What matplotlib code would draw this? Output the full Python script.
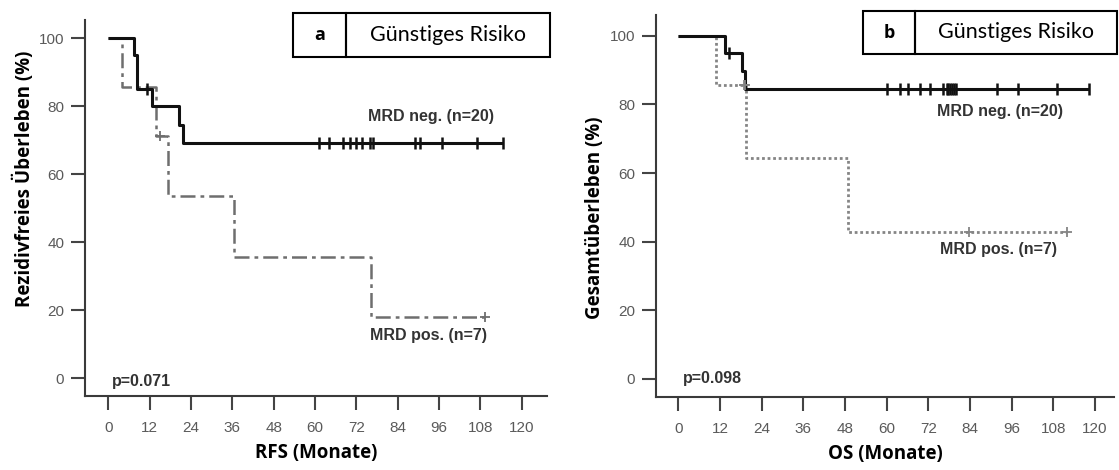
import numpy as np
import matplotlib
matplotlib.use("Agg")
import matplotlib.pyplot as plt
from matplotlib.patches import Rectangle

# RFS (panel a)
rfs_neg_t = [0, 7.4, 8.3, 12.6, 20.4, 21.7]
rfs_neg_s = [100, 95.0, 85.0, 80.0, 74.4, 69.1]
rfs_neg_end = 114.5
rfs_neg_cens = [11.3, 61.2, 63.9, 68.2, 70.2, 71.9, 73.6, 76.0, 76.7, 89.0, 90.5, 96.8, 106.9, 114.5]

rfs_pos_t = [0, 3.9, 13.9, 17.3, 36.4, 76.2]
rfs_pos_s = [100, 85.7, 71.4, 53.6, 35.7, 17.9]
rfs_pos_end = 109.3
rfs_pos_cens = [15.0, 109.3]

# OS (panel b)
os_neg_t = [0, 13.4, 18.3, 19.2]
os_neg_s = [100, 95.0, 89.7, 84.4]
os_neg_end = 118.2
os_neg_cens = [14.5, 60.0, 63.9, 66.3, 69.6, 72.5, 76.3, 77.3, 77.8, 78.3, 78.8,
               79.3, 80.0, 91.7, 97.9, 109.0, 118.2]

os_pos_t = [0, 10.9, 19.5, 49.0]
os_pos_s = [100, 85.7, 64.3, 42.9]
os_pos_end = 112.0
os_pos_cens = [18.9, 19.3, 83.6, 112.0]

xticks = np.arange(0, 121, 12)
yticks = [0, 20, 40, 60, 80, 100]

W, H = 1119, 470
fig = plt.figure(figsize=(W / 100, H / 100), dpi=100)

tick_font = "Liberation Sans"
label_font = "Open Sans"


def px_box(x0, y0, x1, y1):
    return [x0 / W, 1 - y1 / H, (x1 - x0) / W, (y1 - y0) / H]


def surv_at(times, surv, t):
    idx = np.searchsorted(times, t, side="right") - 1
    return np.array(surv)[idx]


def km(ax, times, surv, end, cens, style, color, lw, cmarker, cms, cmew):
    xs = list(times) + [end]
    ys = list(surv) + [surv[-1]]
    ax.step(xs, ys, where="post", color=color, lw=lw, linestyle=style,
            solid_capstyle="butt", zorder=3)
    cy = surv_at(times, surv, cens)
    ax.plot(cens, cy, linestyle="none", marker=cmarker, ms=cms, mew=cmew,
            color=color, zorder=4)


def style_axes(ax, xlim, ylim):
    ax.set_xlim(*xlim)
    ax.set_ylim(*ylim)
    ax.set_xticks(xticks)
    ax.set_yticks(yticks)
    for s in ["top", "right"]:
        ax.spines[s].set_visible(False)
    for s in ["left", "bottom"]:
        ax.spines[s].set_color("#3a3a3a")
        ax.spines[s].set_linewidth(1.5)
    ax.tick_params(axis="both", direction="out", length=10, width=1.5,
                   color="#444444", labelcolor="#5a5a5a", labelsize=11)
    ax.tick_params(axis="x", pad=8)
    ax.tick_params(axis="y", pad=5)
    for lab in ax.get_xticklabels() + ax.get_yticklabels():
        lab.set_fontname(tick_font)


def note(ax, x, y, s):
    ax.text(x, y, s, fontname=tick_font, fontweight="bold", fontsize=11.5,
            color="#333333", va="center", ha="left")


# panel a
ax1 = fig.add_axes(px_box(85, 20, 547, 396))
km(ax1, rfs_pos_t, rfs_pos_s, rfs_pos_end, rfs_pos_cens, (0, (6, 2, 1.5, 2)),
   "#6e6e6e", 1.8, "+", 7, 1.3)
km(ax1, rfs_neg_t, rfs_neg_s, rfs_neg_end, rfs_neg_cens, "-",
   "#111111", 2.2, "|", 8, 1.8)
style_axes(ax1, (-6.76, 127.3), (-5.2, 105.4))
note(ax1, 75.4, 76.9, "MRD neg. (n=20)")
note(ax1, 75.9, 12.7, "MRD pos. (n=7)")
note(ax1, 1.0, -1.0, "p=0.071")
ax1.set_xlabel("RFS (Monate)", fontname=label_font, fontweight="bold",
               fontsize=13.5, labelpad=6)

# panel b
ax2 = fig.add_axes(px_box(656, 15, 1114, 397))
km(ax2, os_pos_t, os_pos_s, os_pos_end, os_pos_cens, (0, (1, 1)),
   "#858585", 2.0, "+", 7, 1.3)
km(ax2, os_neg_t, os_neg_s, os_neg_end, os_neg_cens, "-",
   "#111111", 2.2, "|", 8, 1.8)
style_axes(ax2, (-6.4, 125.5), (-5.3, 106.1))
note(ax2, 74.4, 77.9, "MRD neg. (n=20)")
note(ax2, 75.4, 37.6, "MRD pos. (n=7)")
note(ax2, 1.4, 0.2, "p=0.098")
ax2.set_xlabel("OS (Monate)", fontname=label_font, fontweight="bold",
               fontsize=13.5, labelpad=6)

# y labels placed in figure pixels
fig.text(24 / W, 1 - 179 / H, "Rezidivfreies Überleben (%)", rotation=90,
         fontname=label_font, fontweight="bold", fontsize=13.5,
         ha="center", va="center")
fig.text(595 / W, 1 - 218 / H, "Gesamtüberleben (%)", rotation=90,
         fontname=label_font, fontweight="bold", fontsize=13.5,
         ha="center", va="center")

# header boxes
for (x0, xd, x1, y0, y1, letter) in [(293, 346, 550, 13, 57, "a"),
                                     (863, 915, 1117, 11, 54, "b")]:
    for a, b in [(x0, xd), (xd, x1)]:
        fig.patches.append(Rectangle((a / W, 1 - y1 / H), (b - a) / W, (y1 - y0) / H,
                                     transform=fig.transFigure, fill=False,
                                     edgecolor="black", lw=1.5))
    yc = 1 - (y0 + y1) / 2 / H
    fig.text((x0 + xd) / 2 / W, yc, letter, fontname=label_font, fontweight="bold",
             fontsize=13, ha="center", va="center")
    fig.text((xd + x1) / 2 / W, yc, "Günstiges Risiko", fontname="Lato",
             fontsize=15.5, ha="center", va="center")

fig.savefig("out.png", dpi=100)
